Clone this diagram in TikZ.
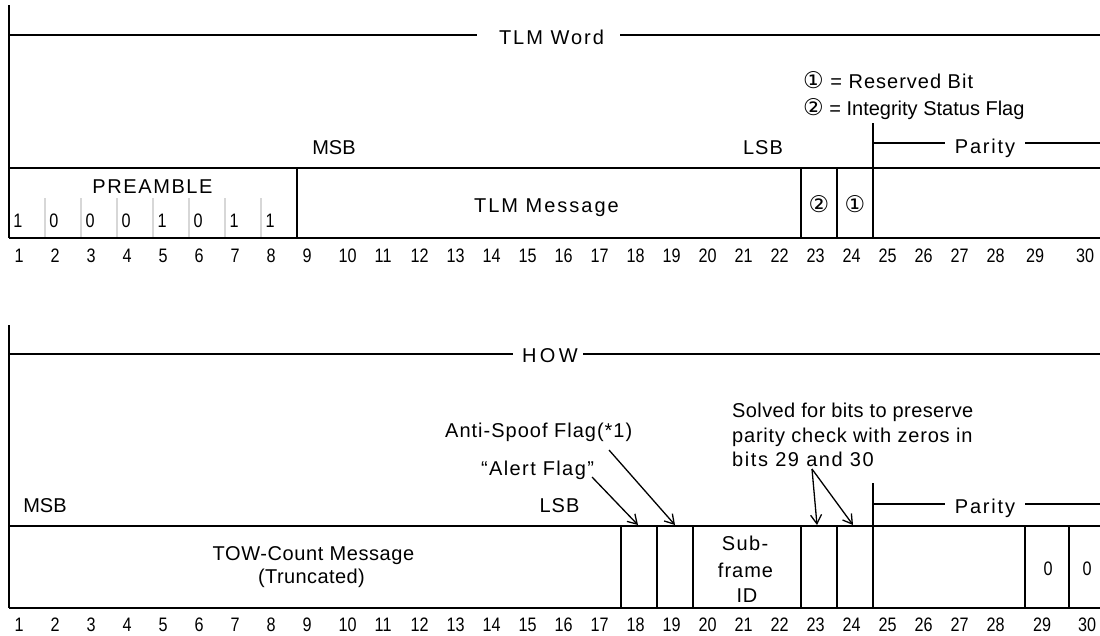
\documentclass[tikz,border=0pt]{standalone}
\usepackage{fontspec}
\setmainfont{Liberation Sans}
\newfontfamily\symfont{DejaVu Sans}
\newfontfamily\numfont{Liberation Sans}[FakeStretch=0.83]
\usetikzlibrary{arrows.meta}
\definecolor{subgray}{RGB}{215,215,215}
\begin{document}
\begin{tikzpicture}[x=1pt,y=-1pt,
  txt/.style={inner sep=0pt, anchor=base, font=\fontsize{20}{24}\selectfont\addfontfeatures{LetterSpace=#1}},
  txt/.default=3,
  num/.style={inner sep=0pt, anchor=base west, font=\numfont\fontsize{19.5}{22}\selectfont},
  digit/.style={inner sep=0pt, anchor=base, font=\numfont\fontsize{19.5}{22}\selectfont},
  circ/.style={inner sep=0pt, font=\symfont\fontsize{23}{24}\selectfont},
  bracket/.style={line width=2.6pt},
  boxline/.style={line width=1.6pt},
  sideline/.style={line width=1.8pt},
  subline/.style={line width=1.2pt, draw=subgray},
  arr/.style={line width=1.3pt, -{Straight Barb[length=9pt,width=11pt,line width=1.3pt]}}
]
\useasboundingbox (0,0) rectangle (1100,635);
\fill[white] (0,0) rectangle (1100,635);

% ================= TLM word =================
\coordinate (tA) at (9,5);
\coordinate (tB) at (9,238);
\draw[sideline] (tA) -- (tB);

\node[txt=10] (tlmword) at (551.5,44) {TLM Word};
\coordinate (tw0) at (9,35);
\coordinate (tw1) at (477,35);
\coordinate (tw2) at (620,35);
\coordinate (tw3) at (1100,35);
\draw[bracket] (tw0) -- (tw1);
\draw[bracket] (tw2) -- (tw3);

\node[txt=5, anchor=base west] (leg1) at (803,88) {{\symfont\fontsize{23}{24}\selectfont ①} = Reserved Bit};
\node[txt=0, anchor=base west] (leg2) at (803,115) {{\symfont\fontsize{23}{24}\selectfont ②} = Integrity Status Flag};

\node[txt=0] (msbt) at (334,154) {MSB};
\node[txt=5] (lsbt) at (763,154) {LSB};

% parity bracket
\coordinate (tp0) at (873,123);
\coordinate (tp1) at (873,168);
\draw[sideline] (tp0) -- (tp1);
\node[txt=9] (parityt) at (985,153) {Parity};
\coordinate (tp2) at (873,143);
\coordinate (tp3) at (945,143);
\coordinate (tp4) at (1025,143);
\coordinate (tp5) at (1100,143);
\draw[bracket] (tp2) -- (tp3);
\draw[bracket] (tp4) -- (tp5);

% box
\coordinate (tt0) at (9,168); \coordinate (tt1) at (1100,168);
\coordinate (tb0) at (9,238); \coordinate (tb1) at (1100,238);
\draw[boxline] (tt0) -- (tt1);
\draw[boxline] (tb0) -- (tb1);
\foreach \x in {297,801,837,873}{
  \coordinate (tdA\x) at (\x,168);
  \coordinate (tdB\x) at (\x,238);
  \draw[boxline] (tdA\x) -- (tdB\x);
}
\foreach \x in {45,81,117,153,189,225,261}{
  \coordinate (tsA\x) at (\x,198);
  \coordinate (tsB\x) at (\x,237);
  \draw[subline] (tsA\x) -- (tsB\x);
}
\node[txt=8] (preamble) at (152.5,193) {PREAMBLE};
\foreach \v [count=\i] in {1,0,0,0,1,0,1,1}{
  \node[digit] (pb\i) at ({18+(\i-1)*36},227) {\v};
}
\node[txt=10] (tlmmsg) at (546.5,212) {TLM Message};
\node[circ] (c2) at (819,204) {②};
\node[circ] (c1) at (855,204) {①};

\foreach \i in {1,...,28}{
  \node[num] (nt\i) at ({9+(\i-1)*36+5.5},262) {\i};
}
\node[num] (nt29) at (1026,262) {29};
\node[num] (nt30) at (1076,262) {30};

% ================= HOW =================
\coordinate (hA) at (9,325);
\coordinate (hB) at (9,608);
\draw[sideline] (hA) -- (hB);

\node[txt=17] (how) at (550,362) {HOW};
\coordinate (hw0) at (9,354);
\coordinate (hw1) at (513,354);
\coordinate (hw2) at (583,354);
\coordinate (hw3) at (1100,354);
\draw[bracket] (hw0) -- (hw1);
\draw[bracket] (hw2) -- (hw3);

\node[txt=2, anchor=base west] (solved1) at (732,417) {Solved for bits to preserve};
\node[txt=4, anchor=base west] (solved2) at (732,442) {parity check with zeros in};
\node[txt=8, anchor=base west] (solved3) at (732,466) {bits 29 and 30};

\node[txt=5, anchor=base west] (anti) at (445,437) {Anti-Spoof Flag(*1)};
\node[txt=7] (alert) at (537.5,475) {“Alert Flag”};

\node[txt=0] (msbh) at (45,512) {MSB};
\node[txt=5] (lsbh) at (559.5,512) {LSB};

% parity bracket
\coordinate (hp0) at (873,483);
\coordinate (hp1) at (873,526);
\draw[sideline] (hp0) -- (hp1);
\node[txt=9] (parityh) at (985,513) {Parity};
\coordinate (hp2) at (873,504);
\coordinate (hp3) at (945,504);
\coordinate (hp4) at (1025,504);
\coordinate (hp5) at (1100,504);
\draw[bracket] (hp2) -- (hp3);
\draw[bracket] (hp4) -- (hp5);

% box
\coordinate (ht0) at (9,526); \coordinate (ht1) at (1100,526);
\coordinate (hb0) at (9,608); \coordinate (hb1) at (1100,608);
\draw[boxline] (ht0) -- (ht1);
\draw[boxline] (hb0) -- (hb1);
\foreach \x in {621,657,693,801,837,873,1025,1069}{
  \coordinate (hdA\x) at (\x,526);
  \coordinate (hdB\x) at (\x,608);
  \draw[boxline] (hdA\x) -- (hdB\x);
}
\node[txt=3] (tow1) at (313.5,560) {TOW-Count Message};
\node[txt=2] (tow2) at (311.5,583) {(Truncated)};
\node[txt=7] (sub1) at (745,550) {Sub-};
\node[txt=5] (sub2) at (745.5,577) {frame};
\node[txt=3] (sub3) at (747,602) {ID};
\node[digit] (z29) at (1048,575) {0};
\node[digit] (z30) at (1087,575) {0};

% arrows
\coordinate (alertfrom) at (592,477);
\coordinate (antifrom) at (609,450);
\coordinate (solvedfrom) at (812,469);
\coordinate (b18) at (638,525);
\coordinate (b19) at (675,525);
\coordinate (b23) at (817,525);
\coordinate (b24) at (853,525);
\draw[arr] (alertfrom) -- (b18);
\draw[arr] (antifrom) -- (b19);
\draw[arr] (solvedfrom) -- (b23);
\draw[arr] (solvedfrom) -- (b24);

\foreach \i in {1,...,28}{
  \node[num] (nh\i) at ({9+(\i-1)*36+5.5},631) {\i};
}
\node[num] (nh29) at (1033,631) {29};
\node[num] (nh30) at (1078,631) {30};
\end{tikzpicture}
\end{document}
